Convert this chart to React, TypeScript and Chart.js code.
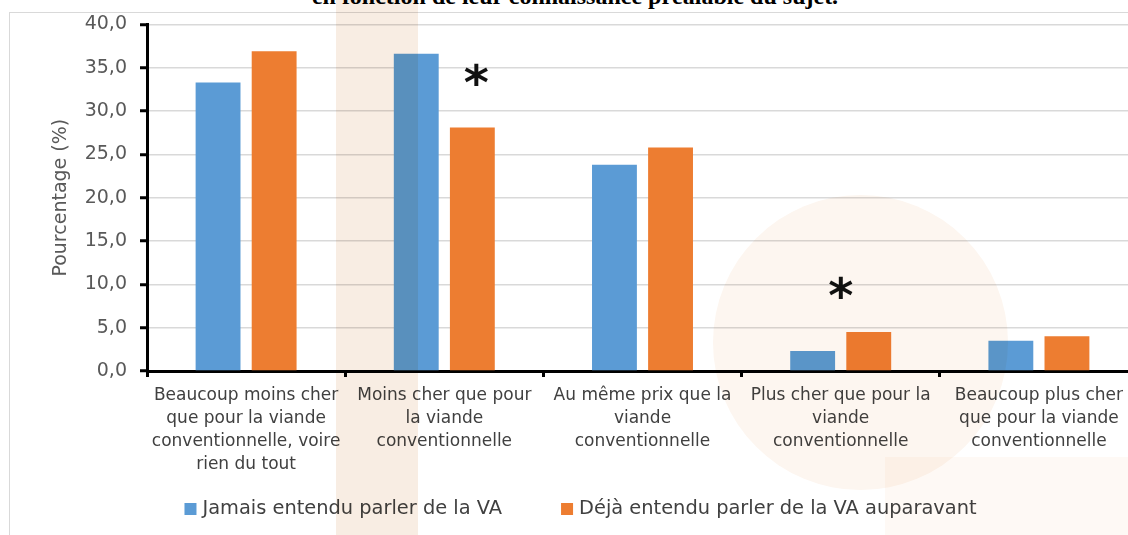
import React, { useEffect, useRef } from "react";
import { Chart, registerables } from "chart.js";

Chart.register(...registerables);

const categories: string[][] = [
  ["Beaucoup moins cher", "que pour la viande", "conventionnelle, voire", "rien du tout"],
  ["Moins cher que pour", "la viande", "conventionnelle"],
  ["Au même prix que la", "viande", "conventionnelle"],
  ["Plus cher que pour la", "viande", "conventionnelle"],
  ["Beaucoup plus cher", "que pour la viande", "conventionnelle"],
];
const seriesNames = ["Jamais entendu parler de la VA", "Déjà entendu parler de la VA auparavant"];
const seriesColors = ["#5B9BD5", "#ED7D31"];
const jamaisValues = [33.3, 36.6, 23.8, 2.3, 3.5];
const dejaValues = [36.9, 28.1, 25.8, 4.5, 4.0];
const starCategories = [1, 3];
const starValues = [34.2, 9.6];
const starDatasets = [1, -1]; // -1 = centred on the category
const titleText = "en fonction de leur connaissance préalable du sujet.";
const yAxisTitle = "Pourcentage (%)";

const FONT = '"DejaVu Sans", sans-serif';

const starPlugin = {
  id: "stars",
  afterDatasetsDraw(chart: any) {
    const { ctx, scales } = chart;
    const x = scales.x;
    const y = scales.y;
    ctx.save();
    ctx.font = 'bold 48px "DejaVu Sans"';
    ctx.fillStyle = "#111111";
    ctx.textAlign = "center";
    ctx.textBaseline = "alphabetic";
    const m = ctx.measureText("*");
    const off = (m.actualBoundingBoxAscent - m.actualBoundingBoxDescent) / 2;
    starCategories.forEach((c, i) => {
      const ds = starDatasets[i];
      const px = ds >= 0 ? chart.getDatasetMeta(ds).data[c].x + 4 : x.getPixelForValue(c);
      const py = y.getPixelForValue(starValues[i]);
      ctx.fillText("*", px, py + off);
    });
    ctx.restore();
  },
};

// Legend drawn on the canvas, laid out like the original (square, gap, text)
const legendPlugin = {
  id: "bottomLegend",
  afterDraw(chart: any) {
    const { ctx } = chart;
    const box = 12;
    const boxGap = 6;
    const itemGap = 59;
    const centerX = 580.5;
    const centerY = 509;
    ctx.save();
    ctx.font = `19.4px ${FONT}`;
    ctx.textBaseline = "middle";
    ctx.textAlign = "left";
    const items = chart.data.datasets.map((ds: any) => ({
      text: ds.label as string,
      color: ds.backgroundColor as string,
      w: ctx.measureText(ds.label).width,
    }));
    const total =
      items.reduce((s: number, it: any) => s + box + boxGap + it.w, 0) + itemGap * (items.length - 1);
    let x = centerX - total / 2;
    items.forEach((it: any) => {
      ctx.fillStyle = it.color;
      ctx.fillRect(x, centerY - box / 2, box, box);
      ctx.fillStyle = "#404040";
      ctx.fillText(it.text, x + box + boxGap, centerY);
      x += box + boxGap + it.w + itemGap;
    });
    ctx.restore();
  },
};

export default function App() {
  const canvasRef = useRef<HTMLCanvasElement | null>(null);

  useEffect(() => {
    if (!canvasRef.current) return;
    Chart.defaults.font.family = FONT;
    const chart = new Chart(canvasRef.current, {
      type: "bar",
      data: {
        labels: categories,
        datasets: [
          {
            label: seriesNames[0],
            data: jamaisValues,
            backgroundColor: seriesColors[0],
            borderWidth: 0,
            categoryPercentage: 0.566,
            barPercentage: 0.8,
          },
          {
            label: seriesNames[1],
            data: dejaValues,
            backgroundColor: seriesColors[1],
            borderWidth: 0,
            categoryPercentage: 0.566,
            barPercentage: 0.8,
          },
        ],
      },
      options: {
        responsive: false,
        animation: false,
        layout: { padding: { left: 0, right: 12, top: 24.3, bottom: 44 } },
        scales: {
          x: {
            ticks: {
              color: "#404040",
              font: { size: 17, lineHeight: 1.353 },
              padding: 7,
              maxRotation: 0,
              autoSkip: false,
            },
            grid: {
              drawOnChartArea: false,
              tickColor: "#000000",
              tickWidth: 3,
              tickLength: 6,
              offset: true,
            },
            border: { color: "#000000", width: 3 },
            afterFit(s: any) {
              s.height = 120;
            },
          },
          y: {
            min: 0,
            max: 40,
            ticks: {
              stepSize: 5,
              color: "#595959",
              font: { size: 19 },
              padding: 13,
              callback: (v: any) => Number(v).toFixed(1).replace(".", ","),
            },
            grid: {
              color: "#d9d9d9",
              lineWidth: 1.5,
              tickColor: "#000000",
              tickWidth: 3,
              tickLength: 7,
            },
            border: { color: "#000000", width: 3 },
            title: {
              display: true,
              text: yAxisTitle,
              color: "#595959",
              font: { size: 19 },
              padding: { top: 50, bottom: 0 },
            },
            afterFit(s: any) {
              s.width = 147;
            },
          },
        },
        plugins: {
          legend: { display: false },
          tooltip: { enabled: false },
        },
      },
      plugins: [starPlugin, legendPlugin],
    } as any);
    return () => chart.destroy();
  }, []);

  return (
    <div
      style={{
        position: "fixed",
        left: 0,
        top: 0,
        width: 1128,
        height: 535,
        overflow: "hidden",
        background: "#ffffff",
      }}
    >
      <div
        style={{
          position: "absolute",
          left: 9,
          top: 12,
          width: 1200,
          height: 600,
          border: "1.5px solid #d9d9d9",
          boxSizing: "border-box",
        }}
      />
      <div
        style={{
          position: "absolute",
          left: 0,
          top: -18,
          width: 1150,
          textAlign: "center",
          font: 'bold 24px "Liberation Serif", serif',
          lineHeight: "28px",
          color: "#000000",
          whiteSpace: "nowrap",
        }}
      >
        {titleText}
      </div>
      <canvas
        ref={canvasRef}
        width={1150}
        height={535}
        style={{ position: "absolute", left: 0, top: 0, display: "block" }}
      />
      <div
        style={{
          position: "absolute",
          left: 336,
          top: 0,
          width: 82,
          height: 535,
          background: "#f8ede3",
          mixBlendMode: "multiply",
          pointerEvents: "none",
        }}
      />
      <div
        style={{
          position: "absolute",
          left: 713,
          top: 195,
          width: 295,
          height: 295,
          borderRadius: "50%",
          background: "#fdf6f0",
          mixBlendMode: "multiply",
          pointerEvents: "none",
        }}
      />
      <div
        style={{
          position: "absolute",
          left: 885,
          top: 457,
          width: 250,
          height: 80,
          background: "#fef9f5",
          mixBlendMode: "multiply",
          pointerEvents: "none",
        }}
      />
    </div>
  );
}
